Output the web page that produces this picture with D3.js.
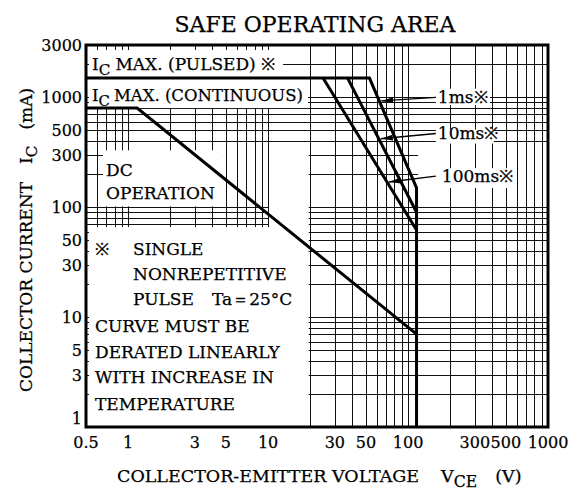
<!DOCTYPE html>
<html>
<head>
<meta charset="utf-8">
<script src="https://cdn.jsdelivr.net/npm/d3@7"></script>
<style>
body { margin: 0; background: #fff; }
text { font-family: "DejaVu Serif", serif; fill: #000; stroke: #000; stroke-width: 0.25px; }
</style>
</head>
<body>
<div id="chart"></div>
<script>
// tick labels on both log axes
const xTickValues = [0.5, 1, 3, 5, 10, 30, 50, 100, 300, 500, 1000];
const yTickValues = [1, 3, 5, 10, 30, 50, 100, 300, 500, 1000, 3000];

// limits (V, mA)
const icPulsed = 1500;
const icContinuous = 800;
const vceoMax = 115;

// DC operation curve
const dcKneeV = 1.16;
const dcEndI = 7;

// single pulse curves: voltage where they leave Ic max, current at Vceo max
const pulseNames = ["1ms※", "10ms※", "100ms※"];
const pulseStartV = [53, 37, 24.7];
const pulseEndI = [150, 90, 62];

// where the leader arrows touch each curve, and where they start at the label
const arrowTipI = [930, 420, 170];
const arrowTailI = [1000, 470, 192];

const W = 569, H = 492;
const margin = { top: 45, right: 21, bottom: 65, left: 86 };

const svg = d3.select("#chart").append("svg")
	.attr("width", W)
	.attr("height", H);

const x = d3.scaleLog().domain([0.5, 1000]).range([margin.left, W - margin.right]);
const y = d3.scaleLog().domain([1, 3000]).range([H - margin.bottom, margin.top]);

// full log grid: 1..9 in every decade
function logGrid(lo, hi) {
	const out = [];
	for (let e = -1; e <= 3; e++) {
		for (let m = 1; m <= 9; m++) {
			const v = m * Math.pow(10, e);
			if (v > lo * 1.0001 && v < hi * 0.9999) out.push(+v.toPrecision(3));
		}
	}
	return out;
}
const xGrid = logGrid(0.5, 1000);
const yGrid = logGrid(1, 3000);

// blank areas of the graph paper behind labels (data units), h = hide horizontals, v = hide verticals
const blanks = [
	{ x: [0.525, 12.8], y: [1500, 2700], hide: "hv" },
	{ x: [0.525, 19.3], y: [800, 1500], hide: "hv" },
	{ x: [0.66, 4.75], y: [102, 330], hide: "hv" },
	{ x: [4.75, 19.5], y: [102, 360], hide: "h" },
	{ x: [10, 19.5], y: [66, 102], hide: "h" },
	{ x: [0.525, 19.5], y: [1, 66], hide: "hv" },
	{ x: [118, 1000], y: [105, 360], hide: "h" },
	{ x: [158, 385], y: [850, 1200], hide: "hv" },
	{ x: [158, 410], y: [380, 510], hide: "hv" },
	{ x: [163, 580], y: [150, 227], hide: "hv" }
];

const defs = svg.append("defs");
["h", "v"].forEach(function (k) {
	const m = defs.append("mask")
		.attr("id", "mask-" + k)
		.attr("maskUnits", "userSpaceOnUse")
		.attr("x", 0).attr("y", 0).attr("width", W).attr("height", H);
	m.append("rect").attr("width", W).attr("height", H).attr("fill", "#fff");
	m.selectAll("rect.b")
		.data(blanks.filter(function (b) { return b.hide.indexOf(k) >= 0; }))
		.enter().append("rect")
		.attr("class", "b")
		.attr("x", function (b) { return x(b.x[0]); })
		.attr("y", function (b) { return y(b.y[1]); })
		.attr("width", function (b) { return x(b.x[1]) - x(b.x[0]); })
		.attr("height", function (b) { return y(b.y[0]) - y(b.y[1]); })
		.attr("fill", "#000");
});

const px = function (v) { return Math.round(v) + 0.5; };

svg.append("g")
	.attr("mask", "url(#mask-h)")
	.selectAll("line")
	.data(yGrid)
	.enter().append("line")
	.attr("x1", x(0.5)).attr("x2", x(1000))
	.attr("y1", function (d) { return px(y(d)); })
	.attr("y2", function (d) { return px(y(d)); })
	.attr("stroke", "#111")
	.attr("stroke-width", 1)
	.attr("shape-rendering", "crispEdges");

svg.append("g")
	.attr("mask", "url(#mask-v)")
	.selectAll("line")
	.data(xGrid)
	.enter().append("line")
	.attr("y1", y(1)).attr("y2", y(3000))
	.attr("x1", function (d) { return px(x(d)); })
	.attr("x2", function (d) { return px(x(d)); })
	.attr("stroke", "#111")
	.attr("stroke-width", 1)
	.attr("shape-rendering", "crispEdges");

// frame
svg.append("rect")
	.attr("x", x(0.5)).attr("y", y(3000))
	.attr("width", x(1000) - x(0.5))
	.attr("height", y(1) - y(3000))
	.attr("fill", "none")
	.attr("stroke", "#000")
	.attr("stroke-width", 3);

// SOA curves
const line = d3.line()
	.x(function (d) { return x(d[0]); })
	.y(function (d) { return y(d[1]); });

const envelope = [[0.5, icPulsed], [pulseStartV[0], icPulsed], [vceoMax, pulseEndI[0]], [vceoMax, 1]];
const dcCurve = [[0.5, icContinuous], [dcKneeV, icContinuous], [vceoMax, dcEndI]];
const curves = [envelope, dcCurve];
for (let i = 1; i < pulseStartV.length; i++) {
	curves.push([[pulseStartV[i], icPulsed], [vceoMax, pulseEndI[i]]]);
}

svg.append("g").selectAll("path")
	.data(curves)
	.enter().append("path")
	.attr("d", line)
	.attr("fill", "none")
	.attr("stroke", "#000")
	.attr("stroke-width", 3)
	.attr("stroke-linejoin", "miter");

// leader arrows from pulse labels to their curves
defs.append("marker")
	.attr("id", "arrow")
	.attr("viewBox", "0 0 12 6")
	.attr("refX", 12).attr("refY", 3)
	.attr("markerWidth", 12).attr("markerHeight", 6)
	.attr("markerUnits", "userSpaceOnUse")
	.attr("orient", "auto")
	.append("path")
	.attr("d", "M0,0L12,3L0,6Z")
	.attr("fill", "#000");

function pointOnPulse(i, current) {
	const t = (Math.log(current) - Math.log(icPulsed)) / (Math.log(pulseEndI[i]) - Math.log(icPulsed));
	const lv = Math.log(pulseStartV[i]) + t * (Math.log(vceoMax) - Math.log(pulseStartV[i]));
	return Math.exp(lv);
}

const labelV = 158;
pulseNames.forEach(function (name, i) {
	const tipV = pointOnPulse(i, arrowTipI[i]);
	svg.append("line")
		.attr("x1", x(labelV)).attr("y1", y(arrowTailI[i]))
		.attr("x2", x(tipV) + 2).attr("y2", y(arrowTipI[i]))
		.attr("stroke", "#000")
		.attr("stroke-width", 1.4)
		.attr("marker-end", "url(#arrow)");
	svg.append("text")
		.attr("x", x(labelV) + 2 + (i === 2 ? 4 : 0))
		.attr("y", y(arrowTailI[i]) + 6)
		.attr("font-size", 17)
		.text(name);
});

// axis tick labels
svg.append("g").selectAll("text")
	.data(yTickValues)
	.enter().append("text")
	.attr("x", x(0.5) - 4)
	.attr("y", function (d) { return d === 1 ? y(d) - 3 : y(d) + 6; })
	.attr("text-anchor", "end")
	.attr("font-size", 16)
	.text(function (d) { return d; });

svg.append("g").selectAll("text")
	.data(xTickValues)
	.enter().append("text")
	.attr("x", function (d) { return x(d); })
	.attr("y", y(1) + 21)
	.attr("text-anchor", "middle")
	.attr("font-size", 16)
	.text(function (d) { return d; });

// title
svg.append("text")
	.attr("x", 315).attr("y", 32)
	.attr("text-anchor", "middle")
	.attr("font-size", 22)
	.text("SAFE OPERATING AREA");

// helper for "I" / "V" with subscript
function subText(sel, parts) {
	parts.forEach(function (p) {
		const t = sel.append("tspan").text(p.t);
		if (p.dx) t.attr("dx", p.dx);
		if (p.sub) t.attr("dy", 5).attr("font-size", "0.9em");
		if (p.up) t.attr("dy", -5);
	});
}

// x axis title
const xt = svg.append("text")
	.attr("x", 117).attr("y", 482)
	.attr("font-size", 17.5);
subText(xt, [
	{ t: "COLLECTOR-EMITTER VOLTAGE" },
	{ t: "V", dx: 22 },
	{ t: "CE", sub: true },
	{ t: "(V)", dx: 18, up: true }
]);

// y axis title
const yt = svg.append("text")
	.attr("transform", "translate(32,392) rotate(-90)")
	.attr("font-size", 17);
subText(yt, [
	{ t: "COLLECTOR CURRENT" },
	{ t: "I", dx: 18 },
	{ t: "C", sub: true },
	{ t: "(mA)", dx: 16, up: true }
]);

// annotations inside the plot
const ip = svg.append("text").attr("x", 92).attr("y", 70).attr("font-size", 17);
subText(ip, [{ t: "I" }, { t: "C", sub: true }, { t: "MAX. (PULSED) ※", dx: 5, up: true }]);
const ic = svg.append("text").attr("x", 92).attr("y", 101).attr("font-size", 16.5);
subText(ic, [{ t: "I" }, { t: "C", sub: true }, { t: "MAX. (CONTINUOUS)", dx: 4, up: true }]);

const notes = [
	{ t: "DC", x: 106, y: 176 },
	{ t: "OPERATION", x: 106, y: 199 },
	{ t: "※", x: 95, y: 255 },
	{ t: "SINGLE", x: 133, y: 255 },
	{ t: "NONREPETITIVE", x: 133, y: 280 },
	{ t: "PULSE", x: 133, y: 305 },
	{ t: "Ta＝25°C", x: 212, y: 305 },
	{ t: "CURVE MUST BE", x: 95, y: 332 },
	{ t: "DERATED LINEARLY", x: 95, y: 358 },
	{ t: "WITH INCREASE IN", x: 95, y: 383 },
	{ t: "TEMPERATURE", x: 95, y: 410 }
];
svg.append("g").selectAll("text")
	.data(notes)
	.enter().append("text")
	.attr("x", function (d) { return d.x; })
	.attr("y", function (d) { return d.y; })
	.attr("font-size", 17)
	.text(function (d) { return d.t; });
</script>
</body>
</html>
